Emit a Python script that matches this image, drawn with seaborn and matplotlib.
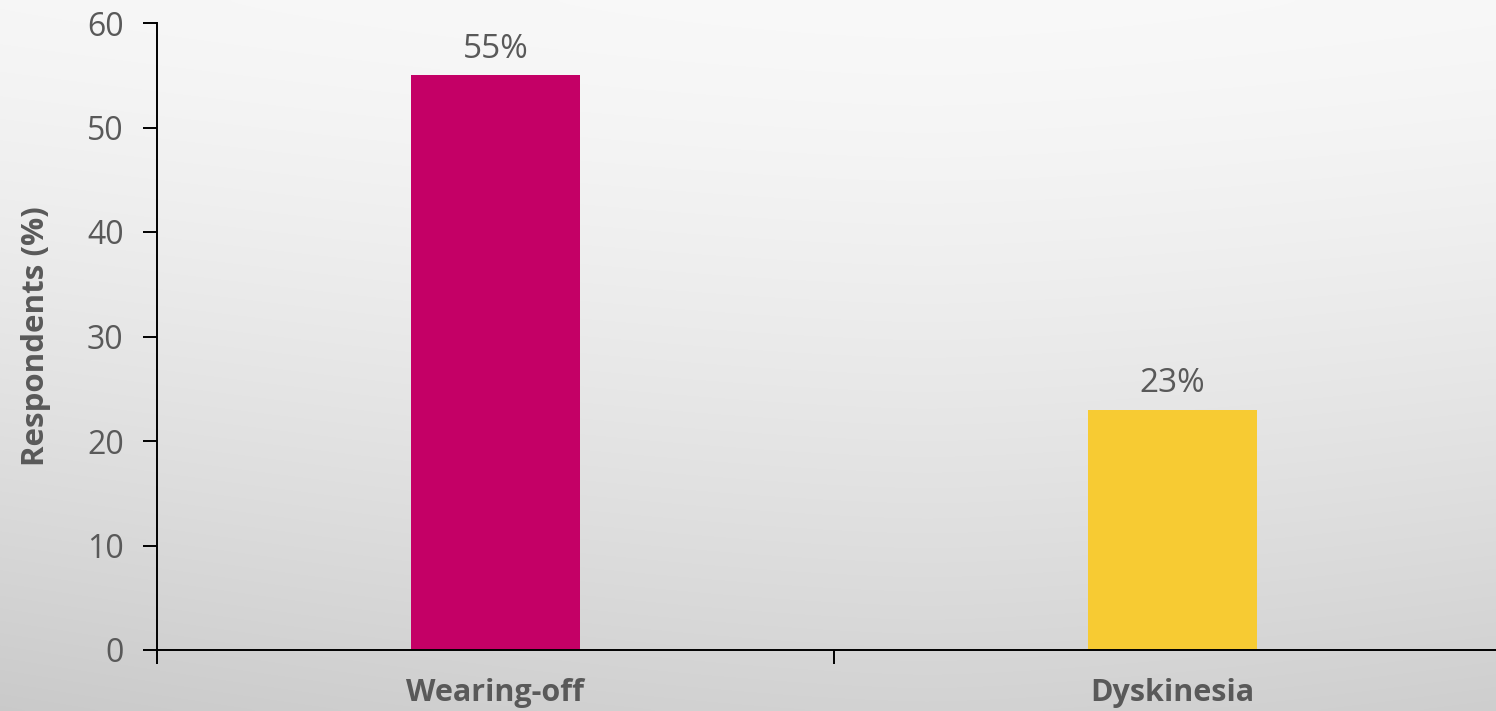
import numpy as np
import pandas as pd
import seaborn as sns
import matplotlib.pyplot as plt
from matplotlib.ticker import FixedLocator, NullFormatter

categories = ["Wearing-off", "Dyskinesia"]
values = [55, 23]
bar_colors = ["#C40066", "#F7CB33"]
yticks = [0, 10, 20, 30, 40, 50, 60]

sns.set_theme(style="ticks")
plt.rcParams["font.family"] = ["Open Sans", "DejaVu Sans"]

TEXT = "#595959"
W, H, DPI = 1496, 711, 100
fig = plt.figure(figsize=(W / DPI, H / DPI), dpi=DPI)

# soft grey backdrop: near white at the top, light grey toward the bottom and left edge
bg = fig.add_axes([0, 0, 1, 1], zorder=-10)
yy, xx = np.mgrid[0:1:300j, 0:1:600j]
shade = 0.975 - 0.15 * yy ** 1.4 - 0.05 * np.abs(xx - 0.62) ** 1.5 * (0.4 + yy)
bg.imshow(np.dstack([shade] * 3), aspect="auto", extent=[0, 1, 0, 1],
          origin="upper", interpolation="bicubic", vmin=0, vmax=1)
bg.set_axis_off()

df = pd.DataFrame({"category": categories, "value": values})
ax = fig.add_axes([157 / W, 1 - 650 / H, (1511 - 157) / W, (650 - 23) / H])
ax.patch.set_alpha(0)
sns.barplot(data=df, x="category", y="value", hue="category",
            palette=bar_colors, width=0.25, legend=False, ax=ax,
            saturation=1, linewidth=0)

ax.set_xlim(-0.5, 1.5)
ax.set_ylim(0, 60)
ax.set_yticks(yticks)
ax.set_yticklabels([str(t) for t in yticks])

# boundary ticks between categories, labels centred on bars
ax.xaxis.set_major_locator(FixedLocator([-0.5, 0.5, 1.5]))
ax.xaxis.set_major_formatter(NullFormatter())
ax.xaxis.set_minor_locator(FixedLocator([0, 1]))
ax.set_xticklabels(categories, minor=True)
ax.tick_params(axis="x", which="major", length=10, width=1.4, color="black", direction="out")
ax.tick_params(axis="x", which="minor", length=0, pad=20,
               labelsize=22, labelcolor=TEXT)
for t in ax.get_xticklabels(minor=True):
    t.set_fontweight("bold")

ax.tick_params(axis="y", length=10, width=1.4, color="black", direction="out",
               labelsize=23, labelcolor=TEXT, pad=14)

for s in ["top", "right"]:
    ax.spines[s].set_visible(False)
for s in ["left", "bottom"]:
    ax.spines[s].set_color("black")
    ax.spines[s].set_linewidth(1.4)

ax.set_xlabel("")
ax.set_ylabel("Respondents (%)", fontsize=22.5, fontweight="bold",
              color=TEXT, labelpad=26)

for i, v in enumerate(values):
    ax.annotate(f"{v}%", xy=(i, v), xytext=(0, 7), textcoords="offset points",
                ha="center", va="bottom", fontsize=24, color=TEXT)

fig.savefig("out.png", dpi=DPI)
